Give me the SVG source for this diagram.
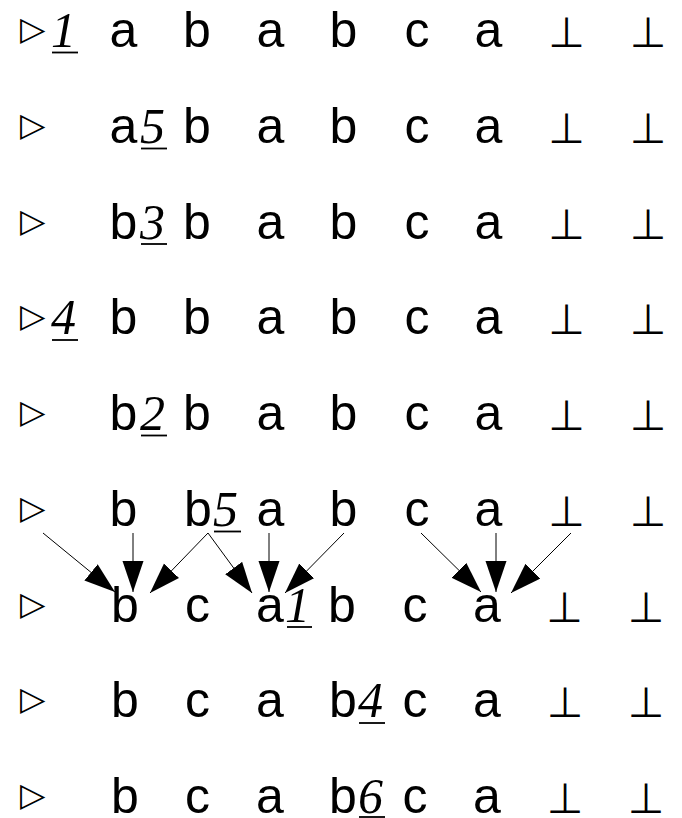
<svg xmlns="http://www.w3.org/2000/svg" width="682" height="818" viewBox="0 0 682 818">
<style>
.t{font-family:"Liberation Sans",Arial,sans-serif;font-size:50px;fill:#000;text-anchor:middle}
.n{font-family:"Liberation Serif","Times New Roman",serif;font-style:italic;font-size:50px;fill:#000}
.u{stroke:#000;stroke-width:1.8}
.tri{font-family:"DejaVu Sans",sans-serif;font-size:33px;fill:#000}
.bot{font-family:"DejaVu Sans",sans-serif;font-size:42px;fill:#000;text-anchor:middle}
.c{stroke:#000;stroke-width:1;fill:none;marker-end:url(#ah)}
</style>
<defs>
<marker id="ah" markerUnits="userSpaceOnUse" markerWidth="32" markerHeight="22" refX="31" refY="10.5" orient="auto">
<path d="M0,0 L31,10.5 L0,21 z" fill="#000"/>
</marker>
</defs>
<g id="row1">
<text class="tri" x="20" y="40">▷</text>
<text class="n" x="51" y="47">1</text><line class="u" x1="52" y1="52.5" x2="78" y2="52.5"/>
<text class="t" x="123.5" y="47">a</text><text class="t" x="197" y="47">b</text><text class="t" x="270.5" y="47">a</text><text class="t" x="343.5" y="47">b</text><text class="t" x="417" y="47">c</text><text class="t" x="488.5" y="47">a</text><text class="bot" x="566.5" y="47">⊥</text><text class="bot" x="648" y="47">⊥</text>
</g>
<g id="row2">
<text class="tri" x="20" y="136">▷</text>
<text class="t" x="123.5" y="142.75">a</text><text class="n" x="140" y="142.75">5</text><line class="u" x1="141" y1="148.5" x2="167" y2="148.5"/>
<text class="t" x="197" y="142.75">b</text><text class="t" x="270.5" y="142.75">a</text><text class="t" x="343.5" y="142.75">b</text><text class="t" x="417" y="142.75">c</text><text class="t" x="488.5" y="142.75">a</text><text class="bot" x="566.5" y="142.75">⊥</text><text class="bot" x="648" y="142.75">⊥</text>
</g>
<g id="row3">
<text class="tri" x="20" y="231.5">▷</text>
<text class="t" x="123.5" y="238.5">b</text><text class="n" x="140" y="238.5">3</text><line class="u" x1="141" y1="244" x2="167" y2="244"/>
<text class="t" x="197" y="238.5">b</text><text class="t" x="270.5" y="238.5">a</text><text class="t" x="343.5" y="238.5">b</text><text class="t" x="417" y="238.5">c</text><text class="t" x="488.5" y="238.5">a</text><text class="bot" x="566.5" y="238.5">⊥</text><text class="bot" x="648" y="238.5">⊥</text>
</g>
<g id="row4">
<text class="tri" x="20" y="327">▷</text>
<text class="n" x="51" y="334.25">4</text><line class="u" x1="52" y1="340" x2="78" y2="340"/>
<text class="t" x="123.5" y="334.25">b</text><text class="t" x="197" y="334.25">b</text><text class="t" x="270.5" y="334.25">a</text><text class="t" x="343.5" y="334.25">b</text><text class="t" x="417" y="334.25">c</text><text class="t" x="488.5" y="334.25">a</text><text class="bot" x="566.5" y="334.25">⊥</text><text class="bot" x="648" y="334.25">⊥</text>
</g>
<g id="row5">
<text class="tri" x="20" y="423">▷</text>
<text class="t" x="123.5" y="430">b</text><text class="n" x="140" y="430">2</text><line class="u" x1="141" y1="435.5" x2="167" y2="435.5"/>
<text class="t" x="197" y="430">b</text><text class="t" x="270.5" y="430">a</text><text class="t" x="343.5" y="430">b</text><text class="t" x="417" y="430">c</text><text class="t" x="488.5" y="430">a</text><text class="bot" x="566.5" y="430">⊥</text><text class="bot" x="648" y="430">⊥</text>
</g>
<g id="row6">
<text class="tri" x="20" y="519">▷</text>
<text class="t" x="123.5" y="525.75">b</text>
<text class="t" x="198" y="525.75">b</text><text class="n" x="213" y="525.75">5</text><line class="u" x1="214" y1="531.5" x2="241" y2="531.5"/>
<text class="t" x="270.5" y="525.75">a</text><text class="t" x="343.5" y="525.75">b</text><text class="t" x="417" y="525.75">c</text><text class="t" x="488.5" y="525.75">a</text><text class="bot" x="566.5" y="525.75">⊥</text><text class="bot" x="648" y="525.75">⊥</text>
</g>
<g id="row7">
<text class="tri" x="20" y="614.5">▷</text>
<text class="t" x="125" y="621.5">b</text><text class="t" x="197.5" y="621.5">c</text>
<text class="t" x="270" y="621.5">a</text><text class="n" x="285" y="621.5">1</text><line class="u" x1="287" y1="627" x2="312" y2="627"/>
<text class="t" x="342" y="621.5">b</text><text class="t" x="415" y="621.5">c</text><text class="t" x="487" y="621.5">a</text><text class="bot" x="564.5" y="621.5">⊥</text><text class="bot" x="646" y="621.5">⊥</text>
</g>
<g id="row8">
<text class="tri" x="20" y="710">▷</text>
<text class="t" x="125" y="717.25">b</text><text class="t" x="197.5" y="717.25">c</text><text class="t" x="270" y="717.25">a</text>
<text class="t" x="343" y="717.25">b</text><text class="n" x="358" y="717.25">4</text><line class="u" x1="359" y1="723" x2="385" y2="723"/>
<text class="t" x="415" y="717.25">c</text><text class="t" x="487" y="717.25">a</text><text class="bot" x="565" y="717.25">⊥</text><text class="bot" x="646" y="717.25">⊥</text>
</g>
<g id="row9">
<text class="tri" x="20" y="805.5">▷</text>
<text class="t" x="125" y="812.5">b</text><text class="t" x="197.5" y="812.5">c</text><text class="t" x="270" y="812.5">a</text>
<text class="t" x="343" y="812.5">b</text><text class="n" x="358" y="812.5">6</text><line class="u" x1="359" y1="817" x2="385" y2="817"/>
<text class="t" x="415" y="812.5">c</text><text class="t" x="487" y="812.5">a</text><text class="bot" x="565" y="812.5">⊥</text><text class="bot" x="646" y="812.5">⊥</text>
</g>
<g id="connectors">
<line class="c" x1="43" y1="533" x2="115" y2="592"/>
<line class="c" x1="133" y1="533" x2="133" y2="592"/>
<line class="c" x1="208" y1="533" x2="150" y2="593"/>
<line class="c" x1="208" y1="533" x2="252" y2="593"/>
<line class="c" x1="269" y1="533" x2="269" y2="592"/>
<line class="c" x1="344" y1="533" x2="285" y2="593"/>
<line class="c" x1="421" y1="533" x2="481" y2="592"/>
<line class="c" x1="496" y1="533" x2="496" y2="592"/>
<line class="c" x1="571" y1="533" x2="511" y2="593"/>
</g>
</svg>
